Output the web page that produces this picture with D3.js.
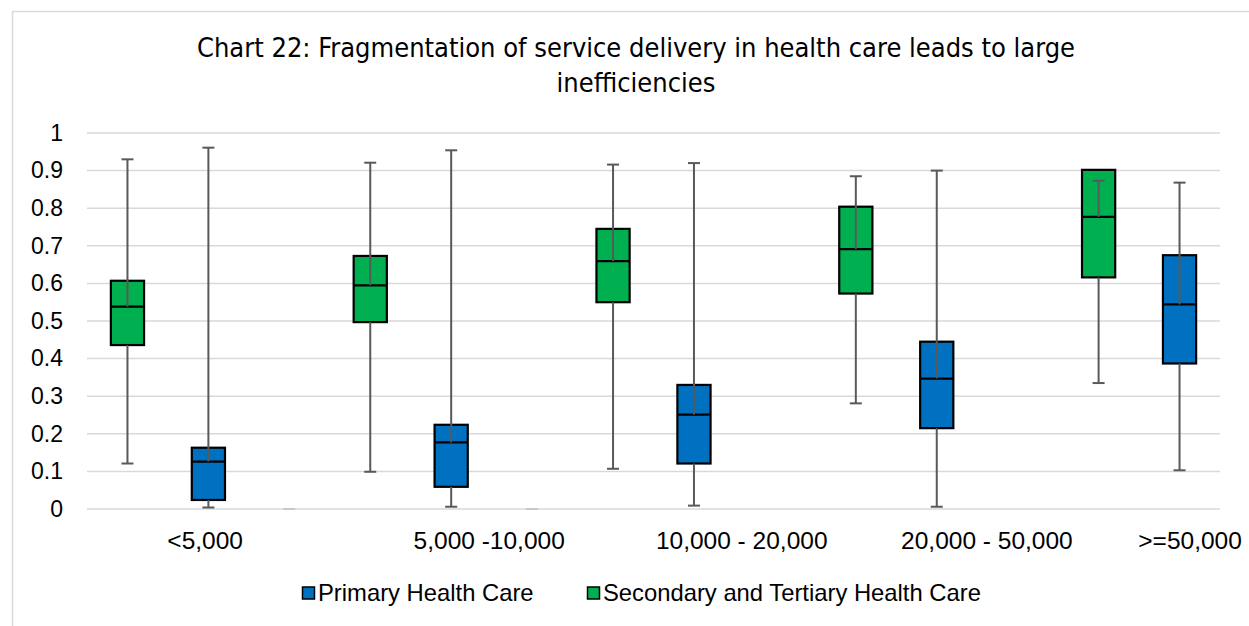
<!DOCTYPE html>
<html>
<head>
<meta charset="utf-8">
<script src="https://cdn.jsdelivr.net/npm/d3@7"></script>
<style>
  html, body { margin: 0; padding: 0; background: #ffffff; }
  svg { display: block; }
</style>
</head>
<body>
<svg id="chart" width="1249" height="626"></svg>
<script>
// ---------------- DATA ----------------
const categories = ["<5,000", "5,000 -10,000", "10,000 - 20,000", "20,000 - 50,000", ">=50,000"];
const seriesNames = ["Primary Health Care", "Secondary and Tertiary Health Care"];

// Primary Health Care (blue)
const primaryMin    = [0.004, 0.006, 0.009, 0.006, 0.103];
const primaryQ1     = [0.024, 0.059, 0.121, 0.215, 0.387];
const primaryMedian = [0.126, 0.177, 0.251, 0.347, 0.544];
const primaryQ3     = [0.163, 0.224, 0.330, 0.445, 0.675];
const primaryMax    = [0.961, 0.954, 0.920, 0.900, 0.868];

// Secondary and Tertiary Health Care (green)
const secondaryMin    = [0.121, 0.099, 0.107, 0.281, 0.335];
const secondaryQ1     = [0.436, 0.497, 0.550, 0.573, 0.616];
const secondaryMedian = [0.538, 0.595, 0.659, 0.691, 0.777];
const secondaryQ3     = [0.607, 0.673, 0.745, 0.804, 0.902];
const secondaryMax    = [0.930, 0.921, 0.916, 0.885, 0.873];

// empty (zero) placeholder boxes that show as tiny dashes
const emptyValues = [0, 0];

const yTicks = [0, 0.1, 0.2, 0.3, 0.4, 0.5, 0.6, 0.7, 0.8, 0.9, 1];

// ---------------- LAYOUT ----------------
const W = 1249, H = 626;
const plot = { left: 87, right: 1220, top: 133, bottom: 509 };
const slotCount = 14;                       // 3 slots per group, last group has 2
const labelSlot = [1.46, 4.97, 8.09, 11.12, 13.63]; // where Excel placed category labels
const emptySlots = [2, 5];
const colors = { primary: "#0070C0", secondary: "#00B050" };

const svg = d3.select("#chart");

const x = d3.scaleLinear().domain([0, slotCount]).range([plot.left, plot.right]);
const y = d3.scaleLinear().domain([0, 1]).range([plot.bottom, plot.top]);
const slotW = x(1) - x(0);
const boxW = slotW * 0.41;
const capW = 12;

// chart border
svg.append("rect")
  .attr("x", 12.5).attr("y", 11.5)
  .attr("width", W + 10).attr("height", H + 10)
  .attr("fill", "none").attr("stroke", "#d9d9d9").attr("stroke-width", 1.5);

// title
const title = svg.append("text")
  .attr("text-anchor", "middle")
  .attr("font-family", "'Liberation Sans Narrow', 'DejaVu Sans Condensed', 'Liberation Sans', sans-serif")
  .attr("font-size", 27)
  .attr("fill", "#000");
title.append("tspan").attr("x", 636).attr("y", 57)
  .text("Chart 22: Fragmentation of service delivery in health care leads to large");
title.append("tspan").attr("x", 636).attr("y", 92)
  .text("inefficiencies");

// gridlines
svg.append("g").selectAll("line").data(yTicks).join("line")
  .attr("x1", plot.left).attr("x2", plot.right)
  .attr("y1", d => y(d)).attr("y2", d => y(d))
  .attr("stroke", "#d9d9d9").attr("stroke-width", 1.5);

// y axis labels
const yAxis = d3.axisLeft(y).tickValues(yTicks).tickSize(0).tickPadding(0)
  .tickFormat(d => d3.format("")(+d.toFixed(1)));
const yg = svg.append("g").attr("transform", `translate(63,0)`).call(yAxis);
yg.select(".domain").remove();
yg.selectAll("text")
  .attr("font-family", "'Liberation Sans', Arial, sans-serif")
  .attr("font-size", 23).attr("fill", "#000");

// x axis labels
const xg = svg.append("g");
xg.selectAll("text").data(categories).join("text")
  .attr("x", (d, i) => x(labelSlot[i]))
  .attr("y", 549)
  .attr("text-anchor", "middle")
  .attr("font-family", "'Liberation Sans', Arial, sans-serif")
  .attr("font-size", 24.5)
  .attr("fill", "#000")
  .text(d => d);

// empty placeholder dashes
svg.append("g").selectAll("line").data(emptySlots).join("line")
  .attr("x1", (d, i) => x(d + 0.5) - 6)
  .attr("x2", (d, i) => x(d + 0.5) + 6)
  .attr("y1", (d, i) => y(emptyValues[i])).attr("y2", (d, i) => y(emptyValues[i]))
  .attr("stroke", "#bfbfbf").attr("stroke-width", 1.5);

// build box records
const boxes = [];
categories.forEach((c, i) => {
  boxes.push({ slot: 3 * i, color: colors.secondary,
    min: secondaryMin[i], q1: secondaryQ1[i], med: secondaryMedian[i], q3: secondaryQ3[i], max: secondaryMax[i] });
  boxes.push({ slot: 3 * i + 1, color: colors.primary,
    min: primaryMin[i], q1: primaryQ1[i], med: primaryMedian[i], q3: primaryQ3[i], max: primaryMax[i] });
});

const gBox = svg.append("g");
const bg = gBox.selectAll("g").data(boxes).join("g");

// boxes
bg.append("rect")
  .attr("x", d => x(d.slot + 0.5) - boxW / 2)
  .attr("width", boxW)
  .attr("y", d => y(d.q3))
  .attr("height", d => y(d.q1) - y(d.q3))
  .attr("fill", d => d.color)
  .attr("stroke", "#000").attr("stroke-width", 2.2);

// median
bg.append("line")
  .attr("x1", d => x(d.slot + 0.5) - boxW / 2)
  .attr("x2", d => x(d.slot + 0.5) + boxW / 2)
  .attr("y1", d => y(d.med)).attr("y2", d => y(d.med))
  .attr("stroke", "#000").attr("stroke-width", 2.2);

// upper whisker: median -> max
const wColor = "#595959", wWidth = 2;
bg.append("line")
  .attr("x1", d => x(d.slot + 0.5)).attr("x2", d => x(d.slot + 0.5))
  .attr("y1", d => y(d.med)).attr("y2", d => y(d.max))
  .attr("stroke", wColor).attr("stroke-width", wWidth);
bg.append("line")
  .attr("x1", d => x(d.slot + 0.5) - capW / 2).attr("x2", d => x(d.slot + 0.5) + capW / 2)
  .attr("y1", d => y(d.max)).attr("y2", d => y(d.max))
  .attr("stroke", wColor).attr("stroke-width", wWidth);
// lower whisker: q1 -> min
bg.append("line")
  .attr("x1", d => x(d.slot + 0.5)).attr("x2", d => x(d.slot + 0.5))
  .attr("y1", d => y(d.q1)).attr("y2", d => y(d.min))
  .attr("stroke", wColor).attr("stroke-width", wWidth);
bg.append("line")
  .attr("x1", d => x(d.slot + 0.5) - capW / 2).attr("x2", d => x(d.slot + 0.5) + capW / 2)
  .attr("y1", d => y(d.min)).attr("y2", d => y(d.min))
  .attr("stroke", wColor).attr("stroke-width", wWidth);

// legend
const legend = svg.append("g").attr("font-family", "'Liberation Sans', Arial, sans-serif")
  .attr("font-size", 23.8);
const legendItems = [
  { name: seriesNames[0], color: colors.primary, x: 302 },
  { name: seriesNames[1], color: colors.secondary, x: 587 }
];
const li = legend.selectAll("g").data(legendItems).join("g")
  .attr("transform", d => `translate(${d.x},0)`);
li.append("rect").attr("x", 0.5).attr("y", 587).attr("width", 12).attr("height", 12)
  .attr("fill", d => d.color).attr("stroke", "#000").attr("stroke-width", 1.5);
li.append("text").attr("x", 16).attr("y", 601).attr("fill", "#000").text(d => d.name);
</script>
</body>
</html>
